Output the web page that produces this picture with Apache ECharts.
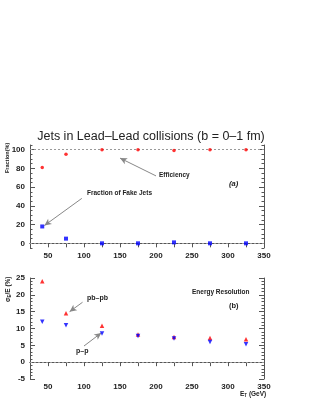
<!DOCTYPE html>
<html><head><meta charset="utf-8">
<script src="https://cdn.jsdelivr.net/npm/echarts@6/dist/echarts.min.js"></script>
<style>html,body{margin:0;padding:0;background:#fff}#c{width:316px;height:409px}</style>
</head><body><div id="c"></div>
<script>
const energies = [42, 75, 125, 175, 225, 275, 325];
const efficiency = [81, 95, 100, 100, 99, 100, 100];
const fakeFraction = [18, 5, 0, 0, 1, 0, 0];
const resPbPb = [24, 14.5, 10.8, 8.2, 7.5, 7.2, 6.8];
const resPP = [12, 11, 8.5, 7.8, 7.0, 6.0, 5.3];
const xTickLabels = [50, 100, 150, 200, 250, 300, 350];
const yTopTickLabels = [0, 20, 40, 60, 80, 100];
const yBotTickLabels = [-5, 0, 5, 10, 15, 20, 25];

const font = 'Liberation Sans';
const axCol = '#555';
const pairs = (xs, ys) => xs.map((x, i) => [x, ys[i]]);
const range = (a, b, s) => { const r = []; for (let v = a; v <= b + 1e-9; v += s) r.push(+v.toFixed(3)); return r; };

function xAx(grid, pos, labels) {
  return {
    type: 'value', gridIndex: grid, position: pos, min: 25, max: 350, interval: 25,
    axisLine: { show: true, lineStyle: { color: axCol, width: 1 } },
    axisTick: { show: !labels, inside: true, length: 4, lineStyle: { color: axCol } },
    axisLabel: labels ? { show: true, fontSize: 8, fontWeight: 'bold', color: '#222', fontFamily: font, margin: 4,
      formatter: v => xTickLabels.includes(v) ? String(v) : '' } : { show: false },
    splitLine: { show: false }
  };
}
function yAx(grid, pos, min, max, minor, labels, majorVals) {
  return [{
    type: 'value', gridIndex: grid, position: pos, min: min, max: max,
    axisLine: { show: true, lineStyle: { color: axCol, width: 1 } },
    axisTick: { show: true, inside: true, length: 5, customValues: majorVals, lineStyle: { color: axCol } },
    axisLabel: labels ? { show: true, fontSize: 8, fontWeight: 'bold', color: '#222', fontFamily: font, margin: 5, customValues: majorVals } : { show: false, customValues: majorVals },
    splitLine: { show: false }
  }, {
    type: 'value', gridIndex: grid, position: pos, min: min, max: max,
    axisLine: { show: false },
    axisTick: { show: true, inside: true, length: 2.5, customValues: range(min, max, minor), lineStyle: { color: axCol } },
    axisLabel: { show: false, customValues: range(min, max, minor) },
    splitLine: { show: false }
  }];
}

const dashed = { color: '#999', type: [2, 2], width: 1 };
const arrowLine = { color: '#888', width: 1, type: 'solid' };

const yAxes = [].concat(
  yAx(0, 'left', -5, 105, 5, true, yTopTickLabels),
  yAx(0, 'right', -5, 105, 5, false, yTopTickLabels),
  yAx(1, 'left', -5, 25, 1, true, yBotTickLabels),
  yAx(1, 'right', -5, 25, 1, false, yBotTickLabels)
);

const option = {
  animation: false,
  backgroundColor: '#fff',
  title: { text: 'Jets in Lead\u2013Lead collisions (b = 0\u20131 fm)', left: 146, top: 125, textAlign: 'center',
    textStyle: { fontSize: 12.5, fontWeight: 'normal', color: '#222', fontFamily: font } },
  grid: [
    { left: 30, top: 145, width: 234, height: 103 },
    { left: 30, top: 278, width: 234, height: 101 }
  ],
  xAxis: [xAx(0, 'bottom', true), xAx(0, 'top', false), xAx(1, 'bottom', true), xAx(1, 'top', false)],
  yAxis: yAxes,
  series: [
    { type: 'scatter', xAxisIndex: 0, yAxisIndex: 0, data: pairs(energies, efficiency), symbol: 'circle', symbolSize: 3.5,
      itemStyle: { color: '#ff0000' }, z: 5,
      markLine: { silent: true, symbol: 'none', label: { show: false }, lineStyle: dashed, z: 1,
        data: [{ yAxis: 100 }, { yAxis: 0 }] } },
    { type: 'scatter', xAxisIndex: 0, yAxisIndex: 0, data: pairs(energies, fakeFraction), symbol: 'rect', symbolSize: 4,
      itemStyle: { color: '#0000ff' }, z: 5,
      markLine: { silent: true, symbol: ['none', 'arrow'], symbolSize: [5, 7], label: { show: false }, lineStyle: arrowLine,
        data: [
          [{ coord: [200, 72] }, { coord: [150, 91] }],
          [{ coord: [97, 48] }, { coord: [45, 19] }]
        ] } },
    { type: 'scatter', xAxisIndex: 2, yAxisIndex: 4, data: pairs(energies, resPbPb), symbol: 'triangle', symbolSize: 4.5,
      itemStyle: { color: '#ff0000' }, z: 5,
      markLine: { silent: true, symbol: 'none', label: { show: false }, lineStyle: dashed, z: 1, data: [{ yAxis: 0 }] } },
    { type: 'scatter', xAxisIndex: 2, yAxisIndex: 4, data: pairs(energies, resPP), symbol: 'triangle', symbolRotate: 180, symbolSize: 4.5,
      itemStyle: { color: '#0000ff' }, z: 5,
      markLine: { silent: true, symbol: ['none', 'arrow'], symbolSize: [5, 7], label: { show: false }, lineStyle: arrowLine,
        data: [
          [{ coord: [98, 17.8] }, { coord: [80, 15] }],
          [{ coord: [100, 4.8] }, { coord: [124, 8.7] }]
        ] } }
  ],
  graphic: [
    { type: 'text', left: 159, top: 172, style: { text: 'Efficiency', font: 'bold 6.5px Liberation Sans', fill: '#222' } },
    { type: 'text', left: 87, top: 190, style: { text: 'Fraction of Fake Jets', font: 'bold 6.5px Liberation Sans', fill: '#222' } },
    { type: 'text', left: 229, top: 180, style: { text: '(a)', font: 'bold italic 7.5px Liberation Sans', fill: '#222' } },
    { type: 'text', left: 192, top: 289, style: { text: 'Energy Resolution', font: 'bold 6.5px Liberation Sans', fill: '#222' } },
    { type: 'text', left: 229, top: 302, style: { text: '(b)', font: 'bold 7.5px Liberation Sans', fill: '#222' } },
    { type: 'text', left: 87, top: 295, style: { text: 'pb\u2013pb', font: 'bold 7px Liberation Sans', fill: '#222' } },
    { type: 'text', left: 76, top: 348, style: { text: 'p\u2013p', font: 'bold 7px Liberation Sans', fill: '#222' } },
    { type: 'text', x: 240, y: 390, style: { text: 'E{s|T} (GeV)', font: 'bold 6.5px Liberation Sans', fill: '#222',
      rich: { s: { fontSize: 4.5, fontWeight: 'bold', fontFamily: font, padding: [3, 0, 0, 0] } } } },
    { type: 'text', x: 4, y: 173, rotation: Math.PI / 2, style: { text: 'Fraction(%)', font: 'bold 5.5px Liberation Sans', fill: '#222' } },
    { type: 'text', x: 4, y: 302, rotation: Math.PI / 2, style: { text: '\u03c3{s|E}/E (%)', font: 'bold 6.5px Liberation Sans', fill: '#222',
      rich: { s: { fontSize: 4.5, fontWeight: 'bold', fontFamily: font, padding: [3, 0, 0, 0] } } } }
  ]
};
const chart = echarts.init(document.getElementById('c'), null, { renderer: 'canvas' });
chart.setOption(option);
</script></body></html>
